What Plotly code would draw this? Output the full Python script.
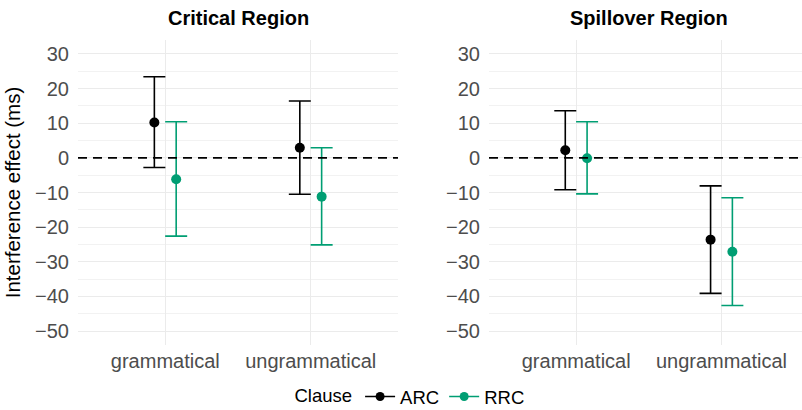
import plotly.graph_objects as go

# ---- data ----
regions = ["Critical Region", "Spillover Region"]
conditions = ["grammatical", "ungrammatical"]
clauses = ["ARC", "RRC"]

# mean, lower, upper per region -> clause -> [grammatical, ungrammatical]
crit_arc_mean = [10.2, 2.9]
crit_arc_lo = [-2.8, -10.5]
crit_arc_hi = [23.4, 16.4]
crit_rrc_mean = [-6.2, -11.2]
crit_rrc_lo = [-22.6, -25.1]
crit_rrc_hi = [10.4, 2.9]

spill_arc_mean = [2.2, -23.6]
spill_arc_lo = [-9.2, -39.1]
spill_arc_hi = [13.6, -8.1]
spill_rrc_mean = [-0.1, -27.1]
spill_rrc_lo = [-10.4, -42.6]
spill_rrc_hi = [10.4, -11.5]

y_ticks = [-50, -40, -30, -20, -10, 0, 10, 20, 30]

colors = {"ARC": "#000000", "RRC": "#009E73"}
dodge = {"ARC": -0.075, "RRC": 0.075}

panel_data = {
    "Critical Region": {
        "ARC": (crit_arc_mean, crit_arc_lo, crit_arc_hi),
        "RRC": (crit_rrc_mean, crit_rrc_lo, crit_rrc_hi),
    },
    "Spillover Region": {
        "ARC": (spill_arc_mean, spill_arc_lo, spill_arc_hi),
        "RRC": (spill_rrc_mean, spill_rrc_lo, spill_rrc_hi),
    },
}

FONT = "Liberation Sans, Arial, Helvetica, sans-serif"
fig = go.Figure()

for pi, reg in enumerate(regions):
    xa = "x" if pi == 0 else "x2"
    ya = "y" if pi == 0 else "y2"
    for cl in clauses:
        m, lo, hi = panel_data[reg][cl]
        xs = [i + 1 + dodge[cl] for i in range(len(conditions))]
        fig.add_trace(go.Scatter(
            x=xs, y=m, mode="markers", xaxis=xa, yaxis=ya,
            marker=dict(color=colors[cl], size=10),
            error_y=dict(type="data", symmetric=False,
                         array=[h - v for h, v in zip(hi, m)],
                         arrayminus=[v - l for v, l in zip(m, lo)],
                         color=colors[cl], thickness=1.6, width=11),
            showlegend=False, name=cl, hoverinfo="x+y",
        ))

# legend entries
for cl in clauses:
    fig.add_trace(go.Scatter(
        x=[None], y=[None], mode="lines+markers", name=cl,
        line=dict(color=colors[cl], width=1.6),
        marker=dict(color=colors[cl], size=9),
        showlegend=True,
    ))

for pi in range(2):
    xr = "x domain" if pi == 0 else "x2 domain"
    yr = "y" if pi == 0 else "y2"
    fig.add_shape(type="line", xref=xr, yref=yr, x0=0, x1=1, y0=0, y1=0,
                  line=dict(color="black", width=1.6, dash="9px,6px"), layer="above")

grid_major = "#EBEBEB"
grid_minor = "#F2F2F2"

xcommon = dict(
    tickvals=[1, 2], ticktext=conditions, showgrid=True, gridcolor=grid_major,
    gridwidth=1.4, zeroline=False, showline=False, ticks="", automargin=False,
    tickfont=dict(family=FONT, size=20, color="#4D4D4D"), ticklabelstandoff=2,
)
ycommon = dict(
    range=[-54, 34], tickvals=y_ticks, showgrid=True, gridcolor=grid_major,
    gridwidth=1.4, zeroline=False, showline=False, ticks="", automargin=False,
    minor=dict(dtick=5, tick0=0, showgrid=True, gridcolor=grid_minor, gridwidth=0.9),
    tickfont=dict(family=FONT, size=20, color="#4D4D4D"), ticklabelstandoff=8,
)

L, R, T, B = 78, 0, 40, 65
W, H = 802, 410
pw = W - L - R
ph = H - T - B
x1_dom = [0, 320 / pw]
x2_dom = [(489 - L) / pw, 1]
title_x = [(238 - L) / pw, (648.5 - L) / pw]

fig.update_layout(
    width=W, height=H,
    margin=dict(l=L, r=R, t=T, b=B, autoexpand=False),
    paper_bgcolor="white", plot_bgcolor="white",
    font=dict(family=FONT, color="black"),
    xaxis=dict(domain=x1_dom, range=[0.4, 2.6], **xcommon),
    xaxis2=dict(domain=x2_dom, range=[0.4, 0.4 + (W - 489) / 145.3], anchor="y2", **xcommon),
    yaxis=dict(domain=[0, 1], anchor="x",
               title=dict(text="Interference effect (ms)", font=dict(family=FONT, size=20.5, color="black"), standoff=8),
               **ycommon),
    yaxis2=dict(domain=[0, 1], anchor="x2", **ycommon),
    showlegend=True,
    legend=dict(orientation="h", x=(411 - L) / pw, xanchor="center", y=(ph - (397 - T)) / ph, yanchor="middle",
                title=dict(text="Clause", font=dict(family=FONT, size=18.5, color="black"), side="left"),
                font=dict(family=FONT, size=18.5, color="black"), itemwidth=30,
                bgcolor="rgba(0,0,0,0)"),
)

for pi, reg in enumerate(regions):
    fig.add_annotation(
        text=reg, xref="paper", yref="paper", x=title_x[pi],
        y=1 + (T - 18) / ph, xanchor="center", yanchor="middle", showarrow=False,
        font=dict(family=FONT, size=20, color="black", weight="bold"),
    )

fig.write_html("out.html", config={"displayModeBar": False},
               post_script="document.body.style.margin='0';document.body.style.overflow='hidden';")
